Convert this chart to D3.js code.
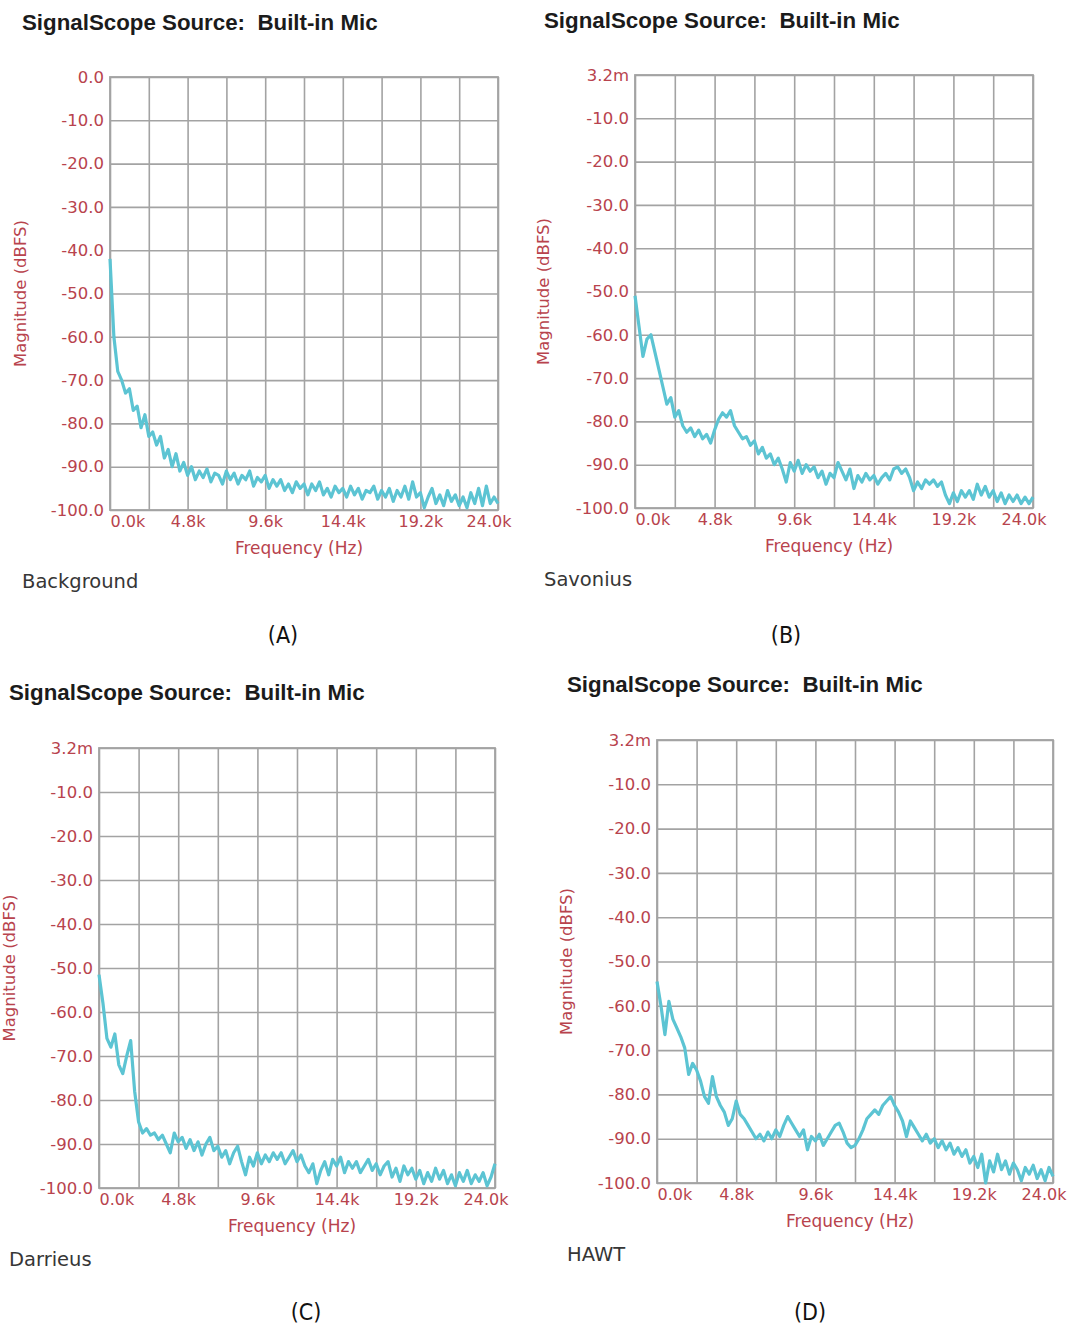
<!DOCTYPE html>
<html>
<head>
<meta charset="utf-8">
<script src="https://cdn.jsdelivr.net/npm/d3@7"></script>
<style>
  html, body { margin: 0; padding: 0; background: #ffffff; }
  svg { display: block; }
  .keep-spaces { white-space: pre; }
</style>
</head>
<body>
<svg id="chart" width="1075" height="1326"></svg>
<script>
// ---- Spectrum data: magnitude (dBFS) per 240 Hz bin, 0 .. 24 kHz ----
const binStepHz = 240;

const freqTickValues = [0, 4800, 9600, 14400, 19200, 24000];
const freqTickLabels = ["0.0k", "4.8k", "9.6k", "14.4k", "19.2k", "24.0k"];
const freqGridStepHz = 2400;

const magTickValues = [0, -10, -20, -30, -40, -50, -60, -70, -80, -90, -100];
const magTickLabelsZero = ["0.0", "-10.0", "-20.0", "-30.0", "-40.0", "-50.0", "-60.0", "-70.0", "-80.0", "-90.0", "-100.0"];
const magTickLabelsMilli = ["3.2m", "-10.0", "-20.0", "-30.0", "-40.0", "-50.0", "-60.0", "-70.0", "-80.0", "-90.0", "-100.0"];

const panelTitles = ["SignalScope Source:  Built-in Mic", "SignalScope Source:  Built-in Mic", "SignalScope Source:  Built-in Mic", "SignalScope Source:  Built-in Mic"];
const panelNames = ["Background", "Savonius", "Darrieus", "HAWT"];
const panelLetters = ["(A)", "(B)", "(C)", "(D)"];

const backgroundDb = [
  -42, -60, -68, -70, -73, -72, -77, -76, -81, -78,
  -83, -82, -85, -83, -88, -86, -90, -87, -91, -89,
  -92, -90, -93, -91, -92.5, -90.5, -93.5, -91.5, -92, -94,
  -91, -93, -91.5, -94, -92, -93, -91, -94.5, -92.5, -93.5,
  -92, -95, -93, -94.5, -93, -95.5, -94, -96, -93.5, -95,
  -94, -96.5, -94, -95.5, -93.5, -96.5, -95, -97, -94.5, -96,
  -95, -97, -94.5, -96.5, -95, -97.5, -95.5, -96, -94.5, -97.5,
  -95.5, -97, -95, -98, -95.5, -97, -94.5, -97.5, -93.5, -97,
  -96, -99.5, -97, -95, -98.5, -96.5, -99, -95.5, -98, -96.5,
  -99, -97, -99.5, -96, -98.5, -95, -99, -94.5, -98.5, -97,
  -98.5
];

const savoniusDb = [
  -51, -58, -65, -61, -60, -64, -68, -72, -76, -74.5,
  -79, -77.5, -81, -82.5, -81.5, -83.5, -82, -84, -83, -85,
  -82, -79.5, -78, -79, -77.5, -81, -82.5, -84, -83.5, -85.5,
  -84.5, -87.5, -86, -88.5, -87.5, -90, -88.5, -91, -94, -89.5,
  -91.5, -89, -92, -90, -91.5, -90.5, -93, -91.5, -94.5, -92,
  -93, -89.5, -91.5, -93.5, -91, -95.5, -92.5, -94, -92, -93.5,
  -92.5, -94.5, -93, -92, -93.5, -91, -90.5, -92, -91, -93,
  -96, -94, -95.5, -93.5, -94.5, -93.5, -95, -94, -97, -99,
  -96.5, -98.5, -96, -97.5, -96, -98, -94.5, -97, -95, -97.5,
  -96, -98.5, -96.5, -99, -97, -98.5, -97, -99, -97.5, -99,
  -97.5
];

const darrieusDb = [
  -51.5, -58, -66, -68, -65, -72, -74, -70, -66.5, -78,
  -85, -87.5, -86.5, -88, -87.5, -89, -88, -90, -92, -87.5,
  -89.5, -88.5, -91, -89, -91.5, -89.5, -92.5, -90, -88.5, -91.5,
  -90.5, -93, -91.5, -94.5, -92, -90.5, -94, -97, -93, -95,
  -92, -94.5, -92.5, -94, -92, -93.5, -92, -94.5, -93, -91.5,
  -94, -92.5, -95, -96.5, -94.5, -99, -96, -94, -97, -93.5,
  -95, -93, -96.5, -94, -95.5, -94, -96.5, -95, -93.5, -96,
  -94.5, -97, -95, -94, -97.5, -95.5, -98.5, -95, -97, -95.5,
  -98, -96, -99, -96.5, -98.5, -95.5, -98, -96, -99, -97,
  -99.5, -96.5, -98.5, -96, -99, -97, -98.5, -96.5, -99.5, -97.5,
  -94.5
];

const hawtDb = [
  -54.5, -60, -66.5, -59, -63, -65, -67, -69.5, -75.5, -73,
  -74.5, -77, -80.5, -82, -76, -80.5, -82.5, -84, -87, -85.5,
  -81.5, -84.5, -85.5, -87, -88.5, -90, -89, -90.5, -88.5, -90,
  -88, -89.5, -87, -85, -86.5, -88, -89.5, -88, -92.5, -89.5,
  -90.5, -89, -91.5, -90, -88.5, -87, -86.5, -88.5, -91, -92,
  -91.5, -90, -88, -85.5, -84.5, -83.5, -84.5, -82.5, -81.5, -80.5,
  -82.5, -84, -86, -89.5, -86, -87.5, -89, -90.5, -89, -91,
  -90, -92, -90.5, -92.5, -91, -93.5, -92, -94, -92.5, -95.5,
  -94, -96.5, -93.5, -100, -95, -97.5, -93.5, -97, -95, -98,
  -95.5, -97, -99.5, -96.5, -98, -96, -99, -97, -99.5, -96.5,
  -98.5
];

const panelSeries = [backgroundDb, savoniusDb, darrieusDb, hawtDb];
const panelMagLabels = [magTickLabelsZero, magTickLabelsMilli, magTickLabelsMilli, magTickLabelsMilli];

// ---- Page layout for the four spectrum panels ----
const layouts = [
  { left: 110, right: 498,  top: 77,  bottom: 510,  textX: 22,  titleY: 30,  yTitleX: 20,  letterX: 283, letterY: 643 },
  { left: 635, right: 1033, top: 75,  bottom: 508,  textX: 544, titleY: 28,  yTitleX: 543, letterX: 786, letterY: 643 },
  { left: 99,  right: 495,  top: 748, bottom: 1188, textX: 9,   titleY: 700, yTitleX: 9,   letterX: 306, letterY: 1320 },
  { left: 657, right: 1053, top: 740, bottom: 1183, textX: 567, titleY: 692, yTitleX: 566, letterX: 810, letterY: 1320 }
];

const style = {
  grid: "#a3a3a3",
  axisText: "#b8434d",
  trace: "#5cc4d3",
  title: "#1b1b1b",
  name: "#363636",
  letter: "#111111",
  tickFont: "'DejaVu Sans', Verdana, sans-serif",
  titleFont: "'Liberation Sans', Arial, Helvetica, sans-serif",
  letterFont: "'Liberation Sans Narrow', 'Arial Narrow', 'DejaVu Sans Condensed', sans-serif"
};

const svg = d3.select("#chart");

layouts.forEach((L, p) => {
  const series = panelSeries[p];
  const g = svg.append("g");

  const x = d3.scaleLinear().domain([0, 24000]).range([L.left, L.right]);
  const y = d3.scaleLinear().domain([-100, 0]).range([L.bottom, L.top]);

  // Title
  g.append("text")
    .attr("class", "keep-spaces")
    .attr("x", L.textX).attr("y", L.titleY)
    .attr("font-family", style.titleFont).attr("font-weight", "bold")
    .attr("font-size", 22.3).attr("fill", style.title)
    .text(panelTitles[p]);

  // Vertical grid every 2.4 kHz
  const gridX = d3.range(0, 24000 + 1, freqGridStepHz);
  g.append("g")
    .attr("transform", `translate(0,${L.bottom})`)
    .call(d3.axisBottom(x).tickValues(gridX).tickSize(-(L.bottom - L.top)).tickFormat(""))
    .call(s => s.select(".domain").remove())
    .call(s => s.selectAll("line").attr("stroke", style.grid).attr("stroke-width", 1.6));

  // Horizontal grid every 10 dB
  g.append("g")
    .attr("transform", `translate(${L.left},0)`)
    .call(d3.axisLeft(y).tickValues(magTickValues).tickSize(-(L.right - L.left)).tickFormat(""))
    .call(s => s.select(".domain").remove())
    .call(s => s.selectAll("line").attr("stroke", style.grid).attr("stroke-width", 1.6));

  // Plot frame
  g.append("rect")
    .attr("x", L.left).attr("y", L.top)
    .attr("width", L.right - L.left).attr("height", L.bottom - L.top)
    .attr("fill", "none").attr("stroke", style.grid).attr("stroke-width", 1.8);

  // Magnitude tick labels
  const magLabels = panelMagLabels[p];
  g.append("g")
    .attr("transform", `translate(${L.left},0)`)
    .call(d3.axisLeft(y).tickValues(magTickValues).tickSize(0).tickPadding(6)
      .tickFormat((d, i) => magLabels[i]))
    .call(s => s.select(".domain").remove())
    .call(s => s.selectAll("text")
      .attr("font-family", style.tickFont).attr("font-size", 16.5)
      .attr("fill", style.axisText));

  // Frequency tick labels
  const xAxisG = g.append("g")
    .attr("transform", `translate(0,${L.bottom})`)
    .call(d3.axisBottom(x).tickValues(freqTickValues).tickSize(0).tickPadding(0)
      .tickFormat((d, i) => freqTickLabels[i]))
    .call(s => s.select(".domain").remove());
  xAxisG.selectAll("text")
    .attr("font-family", style.tickFont).attr("font-size", 16)
    .attr("fill", style.axisText)
    .attr("dy", null)
    .attr("y", 17);
  xAxisG.selectAll(".tick").filter(d => d === freqTickValues[0])
    .select("text").attr("text-anchor", "start").attr("x", 0);
  xAxisG.selectAll(".tick").filter(d => d === freqTickValues[freqTickValues.length - 1])
    .select("text").attr("text-anchor", "end").attr("x", 13);

  // Axis titles
  g.append("text")
    .attr("x", (L.left + L.right) / 2 - 5).attr("y", L.bottom + 44)
    .attr("text-anchor", "middle")
    .attr("font-family", style.tickFont).attr("font-size", 17)
    .attr("fill", style.axisText)
    .text("Frequency (Hz)");

  g.append("text")
    .attr("transform", `translate(${L.yTitleX + 6},${(L.top + L.bottom) / 2}) rotate(-90)`)
    .attr("text-anchor", "middle")
    .attr("font-family", style.tickFont).attr("font-size", 16.5)
    .attr("fill", style.axisText)
    .text("Magnitude (dBFS)");

  // Spectrum trace
  const line = d3.line()
    .x((d, i) => x(i * binStepHz))
    .y(d => y(d));
  g.append("path")
    .datum(series)
    .attr("d", line)
    .attr("fill", "none")
    .attr("stroke", style.trace)
    .attr("stroke-width", 3.2)
    .attr("stroke-linejoin", "round");

  // Source name and panel letter
  g.append("text")
    .attr("x", L.textX).attr("y", L.bottom + 78)
    .attr("font-family", style.tickFont).attr("font-size", 19.5)
    .attr("fill", style.name)
    .text(panelNames[p]);

  g.append("text")
    .attr("x", L.letterX).attr("y", L.letterY)
    .attr("text-anchor", "middle")
    .attr("font-family", style.letterFont).attr("font-size", 23)
    .attr("fill", style.letter)
    .text(panelLetters[p]);
});
</script>
</body>
</html>
